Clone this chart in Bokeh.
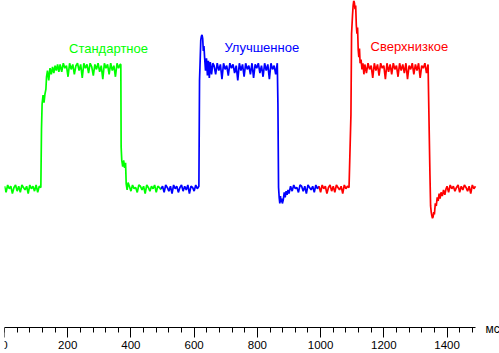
from bokeh.plotting import figure
from bokeh.models import Label, SingleIntervalTicker, Range1d
from bokeh.embed import file_html
from bokeh.resources import INLINE

# time in ms, brightness in % (0 = black level, 100 = white level)
green_t = (list(range(0, 116, 5))
           + [117, 119, 122, 125, 128, 131, 133, 136, 140, 144, 148, 152, 156, 160, 164, 168, 172]
           + list(range(176, 367, 5))
           + [368, 369, 371, 374, 377, 380, 383, 385, 388, 391]
           + list(range(395, 496, 5)))
green_y = ([1, -4, 2, -1, 1, -5, 0, 2, -3, 1, -4, 2, 0, -2, 1, -5, 2, -1, 1, -3, 2, -4, 1, 0]
           + [47, 68, 75, 69, 76, 80, 90, 95, 87, 97, 92, 98, 93, 99, 95, 100, 94]
           + [100, 94, 101, 97, 99, 90, 101, 96, 100, 92, 99, 101, 95, 100, 89, 101, 97, 100, 93, 101,
              98, 91, 100, 96, 101, 94, 99, 88, 101, 97, 100, 92, 101, 95, 99, 90, 101, 97, 100]
           + [100, 33, 22, 17, 22, 16, 20, 3, -2, 4]
           + [1, -3, 2, -1, 0, -4, 2, 1, -2, 1, -5, 2, 0, -3, 1, -1, 2, -4, 1, 0, -2])

blue_t = (list(range(495, 616, 5))
          + [617, 619, 621, 623, 625, 627, 629, 631, 633, 636, 639, 642, 645, 648, 651, 655, 659]
          + list(range(663, 864, 5))
          + [865, 867, 869, 871, 873, 875, 877, 879, 882, 885, 888, 891, 894, 897, 900]
          + list(range(905, 996, 5)))
blue_y = ([-1, 1, -4, 2, 0, -3, 1, -5, 2, -1, 1, -4, 0, 2, -3, 1, -2, 2, -5, 1, 0, -3, 2, -1, 1]
          + [87, 103, 120, 123, 124, 121, 111, 115, 106, 95, 105, 91, 103, 89, 102, 92, 101]
          + [99, 92, 101, 95, 100, 88, 101, 96, 99, 91, 101, 97, 100, 93, 99, 87, 101, 95, 100, 90,
             101, 96, 99, 92, 101, 89, 100, 97, 101, 93, 99, 90, 101, 95, 100, 88, 101, 96, 99, 92, 101]
          + [68, 0, -8, -13, -7, -12, -9, -13, -10, -4, -8, -3, -6, -2, -5]
          + [1, -3, 2, -1, 0, -4, 2, 1, -3, 1, -5, 2, 0, -2, 1, -4, 2, -1, 1])

red_t = (list(range(995, 1095, 5))
         + [1096, 1098, 1101, 1103, 1105, 1107, 1109, 1111, 1113, 1115, 1117, 1119, 1121, 1123, 1125,
            1128, 1131, 1134, 1137]
         + list(range(1140, 1345, 5))
         + [1346, 1348, 1350, 1352, 1354, 1356, 1358, 1360, 1363, 1366, 1369, 1372, 1375, 1378, 1381,
            1385, 1389, 1393, 1397]
         + list(range(1400, 1491, 5)))
red_y = ([1, -4, 2, -1, 1, -5, 0, 2, -3, 1, -4, 2, 0, -2, 1, -5, 2, -1, 1, 0]
         + [59, 125, 140, 148, 152, 150, 145, 148, 132, 125, 130, 112, 106, 113, 101, 104, 96, 101, 92]
         + [100, 93, 101, 96, 99, 89, 101, 95, 100, 91, 101, 97, 99, 88, 101, 94, 100, 92, 101, 96,
            99, 90, 101, 95, 100, 93, 101, 88, 99, 96, 101, 92, 100, 95, 101, 89, 99, 97, 101, 93, 100]
         + [10, -15, -20, -23, -25, -24, -20, -22, -13, -15, -8, -11, -5, -9, -4, -7, -2, -6, -1]
         + [1, -4, 2, -1, 1, -3, 0, 2, -4, 1, -2, 2, 0, -3, 1, -5, 2, -1, 1])

series_names = ["Стандартное", "Улучшенное", "Сверхнизкое"]
series_colors = ["#00ff00", "#0000ff", "#ff0000"]
label_x = [329, 814, 1281]
label_y = [113, 114, 115]
x_unit = "мс"
axis_level = -113.8

p = figure(width=499, height=353, output_backend="svg", toolbar_location=None,
           x_range=Range1d(0, 1566), y_range=Range1d(-135.0, 152.0),
           y_axis_location=None, min_border_left=4, min_border_right=0,
           min_border_top=0, min_border_bottom=0)
p.grid.visible = False
p.outline_line_color = None
p.background_fill_color = "white"
p.border_fill_color = "white"

for t, y, c in zip([green_t, blue_t, red_t], [green_y, blue_y, red_y], series_colors):
    p.line(t, y, line_color=c, line_width=1.7)

ax = p.xaxis[0]
ax.fixed_location = axis_level
ax.bounds = (0, 1490)
ax.ticker = SingleIntervalTicker(interval=200, num_minor_ticks=5)
ax.axis_line_color = "black"
ax.major_tick_line_color = "black"
ax.minor_tick_line_color = "black"
ax.major_tick_in = 0
ax.major_tick_out = 10
ax.minor_tick_in = 0
ax.minor_tick_out = 5
ax.major_label_standoff = 4
ax.major_label_text_font = "Liberation Sans"
ax.major_label_text_font_size = "11.5px"
ax.major_label_text_color = "black"

for name, c, lx, ly in zip(series_names, series_colors, label_x, label_y):
    p.add_layout(Label(x=lx, y=ly, text=name, text_color=c, text_align="center",
                       text_baseline="alphabetic", text_font="Liberation Sans",
                       text_font_size="13px"))

p.add_layout(Label(x=1522, y=axis_level - 1.6, text=x_unit, text_color="black", text_align="left",
                   text_baseline="middle", text_font="Liberation Sans", text_font_size="12px"))

open("out.html", "w").write(file_html(p, INLINE))
